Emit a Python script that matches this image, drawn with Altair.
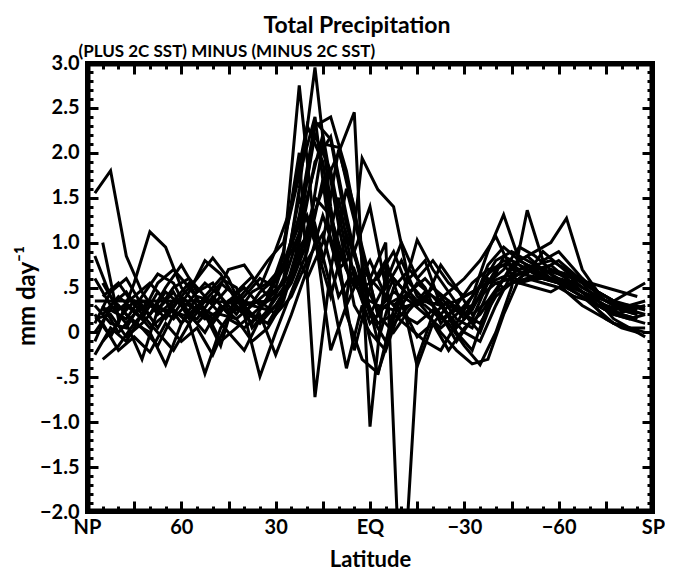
import altair as alt
import pandas as pd

# latitude grids (two model grids)
LAT_A = [87.5, 82.5, 77.5, 72.5, 67.5, 62.5, 57.5, 52.5, 47.5, 42.5, 37.5, 32.5,
         27.5, 22.5, 17.5, 12.5, 7.5, 2.5, -2.5, -7.5, -12.5, -17.5, -22.5, -27.5,
         -32.5, -37.5, -42.5, -47.5, -52.5, -57.5, -62.5, -67.5, -72.5, -77.5, -82.5, -87.5]
LAT_B = [85, 80, 75, 70, 65, 60, 55, 50, 45, 40, 35, 30, 25, 20, 15, 10, 5, 0,
         -5, -10, -15, -20, -25, -30, -35, -40, -45, -50, -55, -60, -65, -70, -75, -80, -85]

A1 = [1.55, 1.80, 0.85, 0.45, 0.20, 0.35, 0.30, 0.15, 0.25, 0.40, 0.30, 0.45, 0.70, 1.30, 2.35, 2.15, 1.20, 0.60,
      0.25, 0.45, 0.35, 0.20, 0.05, 0.20, 0.40, 0.65, 0.80, 0.70, 0.75, 0.60, 0.55, 0.45, 0.30, 0.20, 0.15, 0.20]
A2 = [0.20, -0.05, 0.30, 0.15, 0.45, 0.25, 0.10, 0.35, 0.55, 0.40, 0.20, 0.35, 0.85, 2.75, 1.10, -0.20, 0.30, 0.70,
      0.50, 0.30, 0.45, 0.60, 0.40, 0.15, 0.05, 0.45, 0.85, 0.75, 0.65, 0.60, 0.50, 0.40, 0.25, 0.10, 0.05, 0.00]
A3 = [0.30, 0.10, 0.05, 0.35, 0.25, 0.50, 0.60, 0.40, 0.20, 0.15, 0.30, 0.25, 0.50, 1.60, 2.95, 1.40, 0.20, -0.30,
      -0.45, 0.10, 0.30, 0.40, 0.20, -0.10, 0.15, 0.55, 0.70, 0.95, 0.85, 0.70, 0.65, 0.50, 0.40, 0.30, 0.25, 0.20]
A4 = [0.35, 0.35, 0.35, 0.35, 0.35, 0.35, 0.35, 0.34, 0.34, 0.33, 0.33, 0.35, 0.45, 0.80, 1.50, 1.30, 0.70, 0.40,
      0.30, 0.25, 0.30, 0.35, 0.30, 0.35, 0.45, 0.55, 0.62, 0.65, 0.62, 0.58, 0.52, 0.45, 0.38, 0.33, 0.30, 0.28]
A5 = [-0.25, 0.05, -0.10, 0.20, 0.00, -0.20, 0.10, -0.46, 0.05, 0.30, 0.10, 0.40, 0.90, 2.00, -0.72, 0.70, 1.60, 0.90,
      0.20, 0.60, 0.40, 0.30, 0.15, 0.25, 0.30, 0.75, 0.95, 0.80, 0.70, 0.60, 0.50, 0.40, 0.30, 0.20, 0.15, 0.10]
A6 = [0.15, 0.20, -0.05, 0.10, 0.30, 0.15, 0.35, 0.55, 0.40, 0.20, 0.45, 0.55, 0.75, 1.20, 2.20, 1.80, 0.90, 0.45,
      0.10, 0.20, 0.05, -0.10, -0.20, 0.10, 0.40, 0.90, 1.31, 0.80, 0.90, 1.00, 1.27, 0.70, 0.45, 0.35, 0.30, 0.25]
A7 = [0.60, 0.30, 0.45, 0.20, 0.55, 0.70, 0.50, 0.25, -0.10, 0.05, 0.20, 0.10, 0.40, 1.00, 1.90, 2.18, 1.30, 0.50,
      0.60, 0.90, 0.45, 0.25, 0.00, -0.20, -0.35, -0.30, 0.20, 0.60, 0.75, 0.80, 0.70, 0.55, 0.35, 0.15, 0.05, -0.05]
A8 = [0.85, 0.40, 0.20, 0.05, -0.15, 0.20, 0.45, 0.80, 0.65, 0.35, 0.55, 0.80, 1.00, 1.75, 2.40, 1.00, 0.35, 1.94,
      1.59, 1.40, 0.55, 0.35, 0.75, 0.50, 0.20, 0.35, 0.60, 0.55, 0.50, 0.45, 0.55, 0.60, 0.45, 0.35, 0.45, 0.55]
A9 = [0.00, 0.25, 0.15, 0.40, 0.65, 0.55, 0.20, 0.00, 0.30, 0.15, -0.10, 0.05, 0.35, 0.95, 1.20, 0.50, -0.40, 0.30,
      -0.47, 0.25, 0.60, 0.80, 0.30, 0.05, 0.25, 0.60, 0.50, 0.60, 0.75, 0.65, 0.45, 0.30, 0.20, 0.10, 0.05, 0.05]
A10 = [0.10, 0.45, 0.60, 0.30, 0.05, 0.35, 0.55, 0.20, -0.15, 0.45, 0.62, 0.40, 0.55, 1.10, 2.30, 2.40, 1.80, 0.90,
       0.20, 0.00, 0.25, 0.45, 0.35, 0.00, -0.20, 0.30, 0.60, 0.80, 0.70, 0.75, 0.60, 0.45, 0.30, 0.20, 0.25, 0.30]
A11 = [-0.10, 0.30, 0.10, -0.30, 0.25, 0.45, 0.15, 0.40, 0.60, 0.50, 0.05, 0.25, 0.60, 1.50, 1.00, 0.40, 1.10, 0.60,
       -0.10, 0.50, 0.70, 0.50, 0.10, 0.30, 0.55, 0.70, 0.75, 0.55, 0.60, 0.70, 0.60, 0.45, 0.30, 0.25, 0.30, 0.35]

B1 = [0.20, 0.40, 0.25, 0.05, 0.20, 0.40, 0.25, 0.10, 0.35, 0.50, 0.30, 0.45, 0.65, 1.10, 1.60, 2.00, 2.45, -1.05,
      0.70, 0.50, 0.30, 0.50, 0.35, 0.20, 0.40, 0.70, 0.80, 0.70, 0.60, 0.55, 0.50, 0.40, 0.30, 0.20, 0.15]
B2 = [1.00, 0.15, 0.35, 0.20, 0.45, 0.30, 0.10, 0.30, 0.50, 0.25, 0.10, 0.30, 0.55, 1.00, 2.10, 2.06, 1.30, 0.60,
      1.00, -3.20, -0.30, 0.20, 0.35, 0.15, 0.40, 0.55, 0.60, 0.70, 0.65, 0.55, 0.45, 0.35, 0.25, 0.20, 0.15]
B3 = [-0.10, 0.10, 0.55, 1.12, 0.95, 0.50, 0.30, 0.15, 0.35, 0.20, 0.45, 0.60, 0.90, 1.30, 0.80, 1.50, 0.60, 0.10,
      0.30, 0.40, 1.03, 0.70, 0.45, 0.20, 0.00, 0.45, 0.75, 0.85, 0.70, 0.60, 0.55, 0.45, 0.35, 0.30, 0.25]
B4 = [0.30, 0.00, 0.20, 0.35, 0.15, 0.40, 0.60, 0.83, 0.60, 0.20, -0.49, 0.00, 0.45, 0.90, 1.70, 0.90, 0.50, 0.80,
      0.40, 0.20, 0.10, 0.25, 0.10, -0.15, -0.36, 0.00, 0.50, 1.36, 0.80, 0.90, 0.70, 0.50, 0.40, 0.30, 0.20]
B5 = [-0.30, -0.15, 0.10, 0.00, -0.36, 0.10, 0.30, 0.20, 0.00, -0.20, 0.15, 0.30, 0.60, 1.50, 2.20, 1.20, 0.30, 0.00,
      -0.20, 0.30, 0.55, 0.40, 0.20, 0.00, -0.10, 0.30, 0.65, 0.75, 0.70, 0.65, 0.60, 0.50, 0.35, 0.25, 0.20]
B6 = [0.40, 0.55, 0.30, 0.20, 0.50, 0.75, 0.45, 0.55, 0.25, 0.40, 0.60, 0.50, 1.03, 0.60, 1.00, 2.03, 1.40, 0.20,
      0.55, 1.00, 0.60, 0.80, 0.55, 0.40, 0.50, 0.80, 0.90, 0.80, 0.70, 0.80, 0.65, 0.50, 0.40, 0.30, 0.30]
B7 = [0.10, -0.20, -0.05, -0.22, 0.10, -0.10, 0.05, -0.25, 0.15, 0.05, 0.20, -0.25, 0.20, 0.70, 1.30, 0.80, -0.20, 0.50,
      0.80, 0.30, -0.05, 0.10, -0.20, 0.05, 0.20, 0.45, 0.55, 0.60, 0.55, 0.50, 0.40, 0.35, 0.15, 0.05, 0.00]
B8 = [0.55, 0.25, 0.40, 0.55, 0.35, 0.10, 0.40, 0.35, 0.70, 0.75, 0.50, 0.92, 1.40, 2.30, 1.90, 0.70, 0.90, 1.40,
      0.50, 0.80, 0.40, 0.30, 0.45, 0.60, 0.80, 1.07, 0.70, 0.65, 0.90, 0.75, 0.60, 0.55, 0.50, 0.45, 0.40]
B9 = [0.25, 0.30, 0.10, 0.30, 0.25, 0.20, 0.15, 0.40, 0.20, 0.30, 0.35, 0.20, 0.40, 0.80, 1.10, 0.40, 0.70, 0.20,
      -0.10, 0.40, -0.38, 0.10, 0.30, 0.20, 0.10, 0.40, 0.55, 0.60, 0.60, 0.55, 0.50, 0.40, 0.30, 0.25, 0.20]

SERIES = [("A1", LAT_A, A1), ("A2", LAT_A, A2), ("A3", LAT_A, A3), ("A4", LAT_A, A4),
          ("A5", LAT_A, A5), ("A6", LAT_A, A6), ("A7", LAT_A, A7), ("A8", LAT_A, A8),
          ("A9", LAT_A, A9), ("A10", LAT_A, A10), ("A11", LAT_A, A11),
          ("B1", LAT_B, B1), ("B2", LAT_B, B2), ("B3", LAT_B, B3),
          ("B4", LAT_B, B4), ("B5", LAT_B, B5), ("B6", LAT_B, B6), ("B7", LAT_B, B7),
          ("B8", LAT_B, B8), ("B9", LAT_B, B9)]

# plot frame traced as a closed path through the domain corners
FRAME_LAT = [90, -90, -90, 90, 90]
FRAME_VAL = [3.0, 3.0, -2.0, -2.0, 3.0]

X_MAJOR = [90, 75, 60, 45, 30, 15, 0, -15, -30, -45, -60, -75, -90]
X_MINOR = [90 - 5 * i for i in range(37)]
Y_MAJOR = [3.0, 2.5, 2.0, 1.5, 1.0, 0.5, 0.0, -0.5, -1.0, -1.5, -2.0]
Y_MINOR = [round(-2.0 + 0.1 * i, 1) for i in range(51)]
X_EDGES = [90, -90]
Y_EDGES = [3.0, -2.0]

LINE_W = 3.0
FRAME_W = 7.0

rows = []
for name, lats, vals in SERIES:
    for k, (la, v) in enumerate(zip(lats, vals)):
        rows.append({"model": name, "lat": la, "val": v, "seq": k, "w": LINE_W})
for k, (la, v) in enumerate(zip(FRAME_LAT, FRAME_VAL)):
    rows.append({"model": "frame", "lat": la, "val": v, "seq": k, "w": FRAME_W})
df = pd.DataFrame(rows)
ghost_df = pd.DataFrame({"lat": X_EDGES, "val": Y_EDGES})

FONT = "Lato"
W, H = 566, 449
MAJ, MIN = 11, 6

xscale = alt.Scale(domain=[-90, 90], reverse=True, nice=False, zero=False)
yscale = alt.Scale(domain=[-2, 3], nice=False, zero=False)

common = dict(domain=False, grid=False, tickColor="black", tickWidth=3,
              labelFont=FONT, labelFontWeight="bold", labelColor="black",
              labelFontSize=20, labelOverlap=False, labelFlush=False,
              titleFont=FONT, titleFontWeight="bold", titleColor="black")

x_bottom_major = alt.Axis(
    orient="bottom", values=X_MAJOR, tickSize=MAJ, offset=-MAJ, labelPadding=5,
    labelExpr="datum.value == 90 ? 'NP' : datum.value == 0 ? 'EQ' : datum.value == -90 ? 'SP' : (datum.value % 30 == 0 ? format(datum.value, 'd') : '')",
    title="Latitude", titleFontSize=22, titleX=W / 2, titleY=58, titleAlign="center",
    titleBaseline="middle", **common)
y_left_major = alt.Axis(
    orient="left", values=Y_MAJOR, tickSize=MAJ, offset=-MAJ, labelPadding=8,
    labelExpr="datum.value == 0 ? '0' : datum.value == 0.5 ? '.5' : datum.value == -0.5 ? '-.5' : format(datum.value, '.1f')",
    title="mm day⁻¹", titleFontSize=24, titleAngle=270, titleX=-71, titleY=H / 2 + 8,
    titleAlign="center", titleBaseline="middle", **common)

x_bottom_minor = alt.Axis(orient="bottom", values=X_MINOR, tickSize=MIN, offset=-MIN,
                          labels=False, title=None, **common)
y_left_minor = alt.Axis(orient="left", values=Y_MINOR, tickSize=MIN, offset=-MIN,
                        labels=False, title=None, **common)
x_top_major = alt.Axis(orient="top", values=X_MAJOR, tickSize=MAJ, offset=-MAJ, labels=False,
                       title="(PLUS 2C SST) MINUS (MINUS 2C SST)", titleFontSize=17,
                       titleAnchor="start", titleAlign="left", titleBaseline="alphabetic",
                       titleX=-9, titleY=-18, **common)
y_right_major = alt.Axis(orient="right", values=Y_MAJOR, tickSize=MAJ, offset=-MAJ,
                         labels=False, title=None, **common)
x_top_minor = alt.Axis(orient="top", values=X_MINOR, tickSize=MIN, offset=-MIN,
                       labels=False, title=None, **common)
y_right_minor = alt.Axis(orient="right", values=Y_MINOR, tickSize=MIN, offset=-MIN,
                         labels=False, title=None, **common)

lines = alt.Chart(df).mark_line(color="black", clip=True, strokeJoin="miter").encode(
    x=alt.X("lat:Q", scale=xscale, axis=x_bottom_major),
    y=alt.Y("val:Q", scale=yscale, axis=y_left_major),
    detail="model:N",
    order=alt.Order("seq:Q"),
    size=alt.Size("w:Q", scale=None, legend=None),
)

def ghost(xa, ya):
    return alt.Chart(ghost_df).mark_point(opacity=0).encode(
        x=alt.X("lat:Q", scale=xscale, axis=xa),
        y=alt.Y("val:Q", scale=yscale, axis=ya),
    )

chart = alt.layer(
    lines,
    ghost(x_bottom_minor, y_left_minor),
    ghost(x_top_major, y_right_major),
    ghost(x_top_minor, y_right_minor),
).resolve_axis(x="independent", y="independent").properties(
    width=W, height=H,
    background="white",
    autosize=alt.AutoSizeParams(type="none"),
    padding={"left": 79, "top": 55, "right": 12, "bottom": 61},
    title=alt.TitleParams("Total Precipitation", font=FONT, fontWeight="bold", fontSize=23,
                          color="black", anchor="middle", dx=-13, offset=4),
).configure_view(stroke="black", strokeWidth=4)

chart.save("out.html", embed_options={"renderer": "svg", "actions": False})
